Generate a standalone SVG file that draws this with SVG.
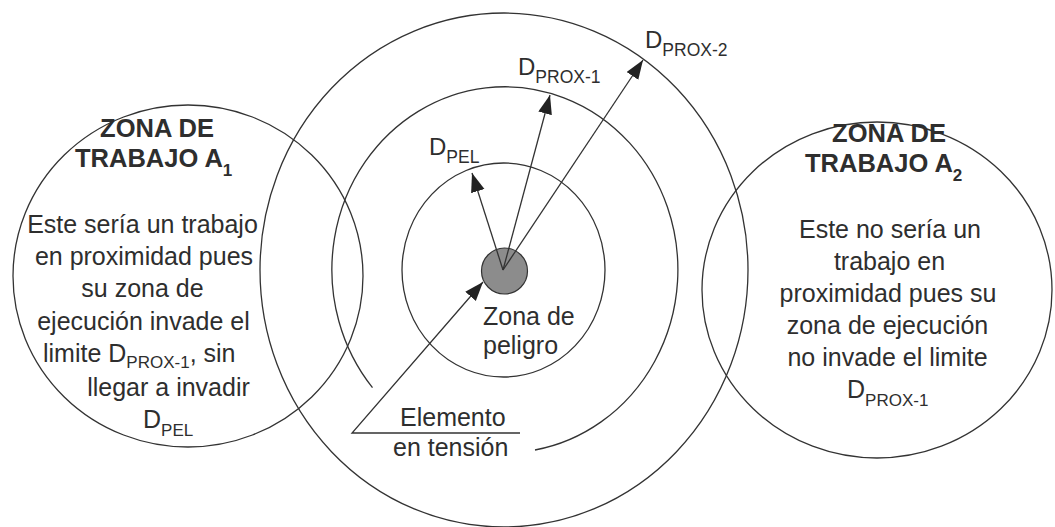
<svg xmlns="http://www.w3.org/2000/svg" width="1055" height="527" viewBox="0 0 1055 527">
<style>
  .ring{fill:none;stroke:#333;stroke-width:1.3}
  .t{font-family:"Liberation Sans",Arial,sans-serif;font-size:25px;fill:#2e2e2e}
  .b{font-family:"Liberation Sans",Arial,sans-serif;font-size:25.5px;font-weight:bold;fill:#2e2e2e}
  .d{font-family:"Liberation Sans",Arial,sans-serif;font-size:24px;fill:#2e2e2e}
  .c{text-anchor:middle}
  .conn{fill:none;stroke:#333;stroke-width:1.3}
</style>
<defs>
  <marker id="ah" markerUnits="userSpaceOnUse" markerWidth="20" markerHeight="15" refX="19" refY="7" orient="auto">
    <path d="M0,0 L19,7 L0,14 z" fill="#222"/>
  </marker>
</defs>
<rect width="1055" height="527" fill="#fff"/>

<g id="limit-prox2">
  <ellipse class="ring" cx="504" cy="270" rx="244" ry="257"/>
  <text class="d" x="645" y="48">D<tspan font-size="17.5" dy="8">PROX-2</tspan></text>
</g>
<g id="limit-prox1">
  <path class="ring" d="M535 450 A173 183 0 1 0 372.5 387.6"/>
  <text class="d" x="518" y="75">D<tspan font-size="17.5" dy="8">PROX-1</tspan></text>
</g>
<g id="limit-pel">
  <ellipse class="ring" cx="503.5" cy="270" rx="101.5" ry="107"/>
  <text class="d" x="429" y="155">D<tspan font-size="17.5" dy="8">PEL</tspan></text>
  <text class="t" x="483" y="325">Zona de</text>
  <text class="t" x="483" y="354">peligro</text>
</g>
<g id="element">
  <circle cx="504.5" cy="271" r="23" fill="#8c8c8c" stroke="#333" stroke-width="1.2"/>
  <text class="t" x="400" y="426">Elemento</text>
  <text class="t" x="393" y="456">en tensión</text>
</g>

<g id="zone-a1">
  <ellipse class="ring" cx="188" cy="276" rx="175" ry="171"/>
  <text class="b c" x="157" y="137">ZONA DE</text>
  <text class="b" x="75" y="167">TRABAJO A<tspan font-size="17" dy="9">1</tspan></text>
  <text class="t c" x="142.5" y="233">Este sería un trabajo</text>
  <text class="t c" x="144" y="265">en proximidad pues</text>
  <text class="t c" x="142.5" y="297">su zona de</text>
  <text class="t c" x="143.5" y="330">ejecución invade el</text>
  <text class="t" x="43" y="362">limite  D<tspan font-size="17" dy="6">PROX-1</tspan><tspan dy="-6">, sin</tspan></text>
  <text class="t c" x="168.5" y="396">llegar a invadir</text>
  <text class="t" x="143" y="428">D<tspan font-size="17" dy="8">PEL</tspan></text>
</g>

<g id="zone-a2">
  <ellipse class="ring" cx="877" cy="290" rx="175" ry="168"/>
  <text class="b c" x="889" y="142">ZONA DE</text>
  <text class="b" x="805" y="172">TRABAJO A<tspan font-size="17" dy="9">2</tspan></text>
  <text class="t c" x="890" y="238">Este no sería un</text>
  <text class="t c" x="889.5" y="270">trabajo en</text>
  <text class="t c" x="888" y="302">proximidad pues su</text>
  <text class="t c" x="887.5" y="334">zona de ejecución</text>
  <text class="t c" x="887.5" y="366">no invade el limite</text>
  <text class="t" x="847" y="398">D<tspan font-size="17" dy="8">PROX-1</tspan></text>
</g>

<g id="connectors">
  <line class="conn" x1="503" y1="270" x2="472" y2="173" marker-end="url(#ah)"/>
  <line class="conn" x1="503" y1="270" x2="550" y2="95" marker-end="url(#ah)"/>
  <line class="conn" x1="503" y1="270" x2="643" y2="60" marker-end="url(#ah)"/>
  <polyline class="conn" points="520,433 352,433 483,282" marker-end="url(#ah)"/>
</g>
</svg>
